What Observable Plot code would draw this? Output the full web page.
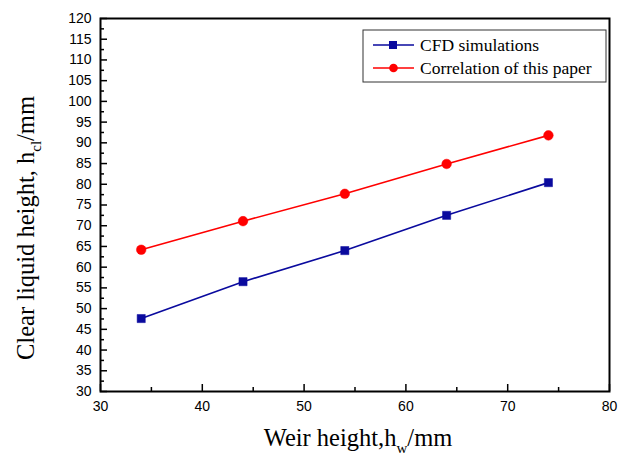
<!DOCTYPE html>
<html><head><meta charset="utf-8">
<script src="https://cdn.jsdelivr.net/npm/d3@7"></script>
<script src="https://cdn.jsdelivr.net/npm/@observablehq/plot@0.6"></script>
<style>
html,body{margin:0;padding:0;background:#fff;}
#wrap{position:relative;width:618px;height:455px;}
</style></head>
<body><div id="wrap"></div>
<script>
const weirHeights = [34, 44, 54, 64, 74];
const cfdValues = [47.6, 56.5, 64.0, 72.5, 80.4];
const corrValues = [64.2, 71.1, 77.7, 84.9, 91.8];
const xMajorTicks = [30, 40, 50, 60, 70, 80];
const xMinorTicks = [35, 45, 55, 65, 75];
const yMajorTicks = d3.range(30, 121, 5);
const yMinorTicks = d3.range(32.5, 120, 5);
const seriesNames = ["CFD simulations", "Correlation of this paper"];
const blue = "#0a0a9e", red = "#ff0000";

const cfd = weirHeights.map((x, i) => ({x, y: cfdValues[i]}));
const corr = weirHeights.map((x, i) => ({x, y: corrValues[i]}));

const W = 618, H = 455, mL = 100, mR = 9, mT = 18, mB = 64;
const pw = W - mL - mR, ph = H - mT - mB;

const chart = Plot.plot({
  width: W, height: H,
  marginLeft: mL, marginRight: mR, marginTop: mT, marginBottom: mB,
  style: {fontFamily: "'Liberation Sans', Arial, sans-serif", fontSize: "14px", color: "#000", background: "#fff"},
  x: {domain: [30, 80]},
  y: {domain: [30, 120]},
  marks: [
    Plot.axisX({ticks: xMajorTicks, tickSize: 0, tickPadding: 10, label: null, fontSize: 14}),
    Plot.axisY({ticks: yMajorTicks, tickSize: 0, tickPadding: 9, label: null, fontSize: 14}),
    Plot.tickX(xMajorTicks, {x: d => d, insetTop: ph - 7, stroke: "#000", strokeWidth: 1.5}),
    Plot.tickX(xMinorTicks, {x: d => d, insetTop: ph - 4, stroke: "#000", strokeWidth: 1.5}),
    Plot.tickY(yMajorTicks, {y: d => d, insetRight: pw - 7, stroke: "#000", strokeWidth: 1.5}),
    Plot.tickY(yMinorTicks, {y: d => d, insetRight: pw - 4, stroke: "#000", strokeWidth: 1.5}),
    Plot.frame({stroke: "#000", strokeWidth: 2}),
    Plot.line(cfd, {x: "x", y: "y", stroke: blue, strokeWidth: 1.6}),
    Plot.dot(cfd, {x: "x", y: "y", symbol: "square", r: 4.6, fill: blue, stroke: blue, strokeWidth: 0.5}),
    Plot.line(corr, {x: "x", y: "y", stroke: red, strokeWidth: 1.6}),
    Plot.dot(corr, {x: "x", y: "y", symbol: "circle", r: 4.8, fill: red, stroke: red, strokeWidth: 0.5})
  ]
});
document.getElementById("wrap").appendChild(chart);

const svg = d3.select(chart);
const serif = "'Liberation Serif', 'Times New Roman', serif";
// x title
const xt = svg.append("text").attr("x", 358).attr("y", 446).attr("text-anchor", "middle")
  .attr("font-family", serif).attr("font-size", 24.5).attr("fill", "#000");
xt.append("tspan").text("Weir height,h");
xt.append("tspan").attr("font-size", 15).attr("dy", 7).text("w");
xt.append("tspan").attr("dy", -7).text("/mm");
// y title
const yt = svg.append("text").attr("transform", "translate(34,228) rotate(-90)").attr("text-anchor", "middle")
  .attr("font-family", serif).attr("font-size", 24.5).attr("fill", "#000");
yt.append("tspan").text("Clear liquid height, h");
yt.append("tspan").attr("font-size", 15).attr("dy", 7).text("cl");
yt.append("tspan").attr("dy", -7).text("/mm");

// legend
const lg = svg.append("g").attr("transform", "translate(363,30)");
lg.append("rect").attr("width", 243).attr("height", 52).attr("fill", "#fff").attr("stroke", "#333").attr("stroke-width", 1);
const rows = [{name: seriesNames[0], color: blue, sym: "square", y: 15}, {name: seriesNames[1], color: red, sym: "circle", y: 38}];
rows.forEach(r => {
  lg.append("line").attr("x1", 10).attr("x2", 51).attr("y1", r.y).attr("y2", r.y).attr("stroke", r.color).attr("stroke-width", 1.6);
  if (r.sym === "square") lg.append("rect").attr("x", 26).attr("y", r.y - 4).attr("width", 8).attr("height", 8).attr("fill", r.color);
  else lg.append("circle").attr("cx", 30.5).attr("cy", r.y).attr("r", 4.3).attr("fill", r.color);
  lg.append("text").attr("x", 57).attr("y", r.y + 6).attr("text-anchor", "start").attr("font-family", serif).attr("font-size", 17.5).attr("fill", "#000").text(r.name);
});
</script></body></html>
